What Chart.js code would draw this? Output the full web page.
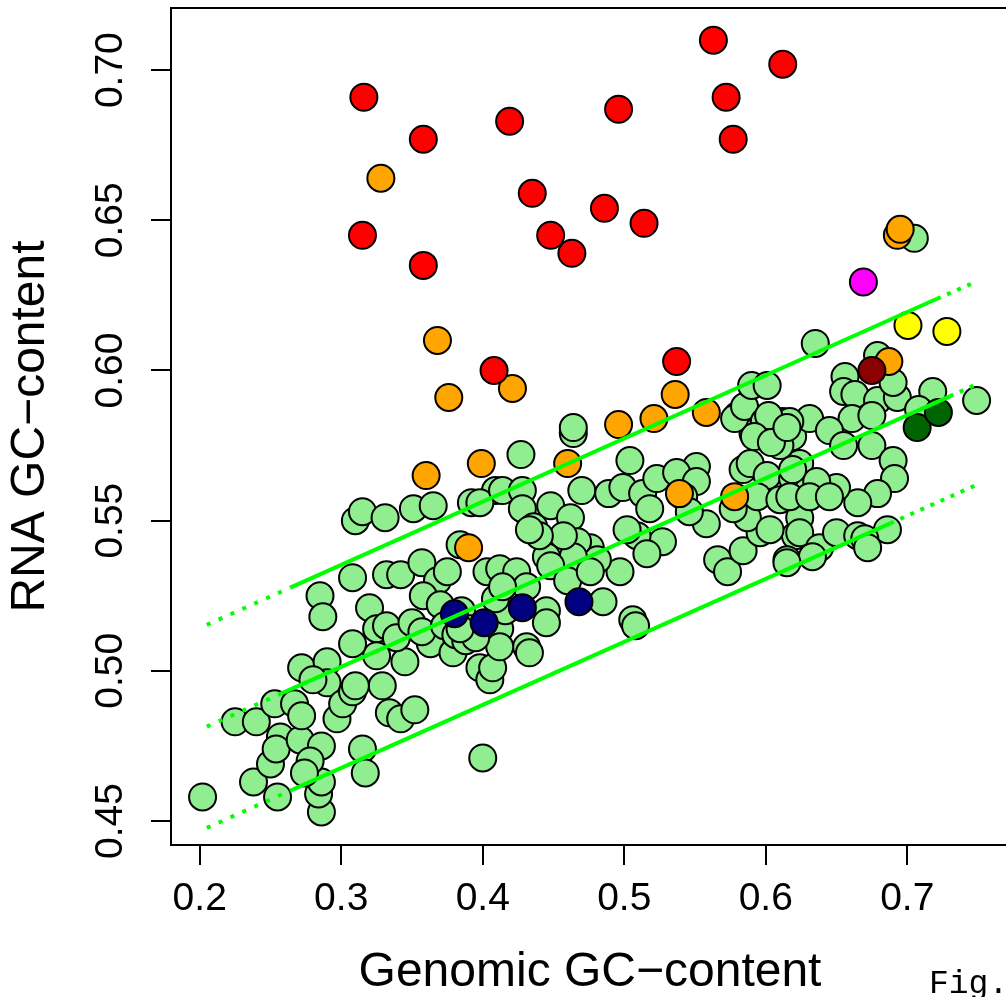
<!DOCTYPE html>
<html><head><meta charset="utf-8">
<script src="https://cdn.jsdelivr.net/npm/chart.js@4.4.0/dist/chart.umd.min.js"></script>
<style>html,body{margin:0;padding:0;background:#fff;overflow:hidden;width:1006px;height:997px}canvas{display:block}</style>
</head><body>
<canvas id="c" width="1012" height="997"></canvas>
<script>
const xTicks=[0.2,0.3,0.4,0.5,0.6,0.7];
const xTickLabels=['0.2','0.3','0.4','0.5','0.6','0.7'];
const yTicks=[0.45,0.50,0.55,0.60,0.65,0.70];
const yTickLabels=['0.45','0.50','0.55','0.60','0.65','0.70'];

const greenX=[
0.202,0.225,0.240,0.238,0.250,0.255,0.253,0.267,0.257,0.254,
0.271,0.286,0.284,0.286,0.286,0.278,0.274,0.272,0.272,0.290,
0.290,0.297,0.301,0.308,0.315,0.317,0.285,0.287,0.310,0.315,
0.331,0.308,0.320,0.325,0.332,0.329,0.334,0.342,0.352,0.345,
0.325,0.308,0.332,0.342,0.357,0.368,0.358,0.351,0.365,0.384,
0.392,0.409,0.412,0.403,0.375,0.363,0.379,0.398,0.405,0.400,
0.339,0.310,0.350,0.357,0.370,0.385,0.391,0.373,0.412,0.416,
0.409,0.427,0.464,0.464,0.504,0.398,0.414,0.428,0.428,0.436,
0.448,0.462,0.470,0.489,0.499,0.513,0.518,0.551,0.523,0.537,
0.551,0.542,0.558,0.546,0.527,0.509,0.516,0.502,0.497,0.476,
0.481,0.467,0.464,0.457,0.445,0.440,0.433,0.412,0.424,0.431,
0.414,0.448,0.460,0.476,0.485,0.445,0.506,0.566,0.573,0.584,
0.596,0.587,0.577,0.584,0.589,0.601,0.594,0.610,0.619,0.624,
0.605,0.601,0.580,0.591,0.619,0.612,0.621,0.615,0.603,0.630,
0.624,0.445,0.431,0.433,0.407,0.412,0.508,0.635,0.679,0.656,
0.655,0.663,0.679,0.693,0.690,0.718,0.749,0.661,0.675,0.631,
0.617,0.645,0.655,0.675,0.690,0.691,0.679,0.665,0.650,0.636,
0.619,0.617,0.631,0.645,0.624,0.638,0.650,0.665,0.686,0.670,
0.633,0.615,0.610,0.672,0.578,0.585,0.599,0.602,0.592,0.604,
0.615,0.590,0.601,0.705,0.708,0.280,0.381,0.388,0.395,0.384];
const greenY=[
0.458,0.483,0.483,0.463,0.469,0.458,0.489,0.489,0.478,0.474,
0.477,0.453,0.459,0.463,0.475,0.470,0.466,0.485,0.501,0.503,
0.496,0.484,0.489,0.493,0.474,0.466,0.525,0.518,0.550,0.553,
0.551,0.531,0.521,0.514,0.515,0.495,0.486,0.484,0.487,0.503,
0.505,0.509,0.532,0.532,0.536,0.530,0.525,0.554,0.555,0.542,
0.556,0.560,0.533,0.533,0.533,0.509,0.506,0.501,0.497,0.471,
0.511,0.495,0.516,0.513,0.522,0.520,0.514,0.515,0.514,0.520,
0.524,0.572,0.579,0.581,0.570,0.556,0.560,0.560,0.554,0.548,
0.555,0.551,0.560,0.559,0.561,0.559,0.554,0.568,0.564,0.566,
0.563,0.558,0.549,0.553,0.543,0.545,0.539,0.547,0.533,0.541,
0.537,0.543,0.538,0.545,0.538,0.545,0.547,0.534,0.533,0.528,
0.528,0.535,0.530,0.533,0.523,0.520,0.517,0.537,0.533,0.540,
0.546,0.551,0.554,0.567,0.569,0.565,0.558,0.557,0.564,0.569,
0.577,0.583,0.585,0.579,0.578,0.583,0.545,0.537,0.547,0.560,
0.551,0.516,0.508,0.506,0.501,0.508,0.515,0.609,0.605,0.598,
0.593,0.592,0.590,0.591,0.596,0.593,0.590,0.584,0.585,0.584,
0.583,0.580,0.575,0.575,0.570,0.564,0.559,0.556,0.561,0.563,
0.567,0.558,0.558,0.558,0.546,0.541,0.546,0.545,0.547,0.544,
0.538,0.536,0.575,0.541,0.584,0.588,0.583,0.585,0.578,0.576,
0.581,0.595,0.595,0.644,0.587,0.497,0.512,0.510,0.511,0.514];

const redX=[0.316,0.358,0.315,0.358,0.419,0.435,0.448,0.463,0.486,0.514,0.496,0.563,0.572,0.577,0.612,0.408,0.537];
const redY=[0.691,0.677,0.645,0.635,0.683,0.659,0.645,0.639,0.654,0.649,0.687,0.710,0.691,0.677,0.702,0.600,0.603];
const orangeX=[0.328,0.368,0.421,0.376,0.536,0.496,0.521,0.558,0.399,0.460,0.360,0.390,0.539,0.578,0.687,0.693,0.695];
const orangeY=[0.664,0.610,0.594,0.591,0.592,0.582,0.584,0.586,0.569,0.569,0.565,0.541,0.559,0.558,0.603,0.645,0.647];
const magentaX=[0.669], magentaY=[0.6295];
const yellowX=[0.7005,0.728], yellowY=[0.615,0.613];
const darkredX=[0.675], darkredY=[0.600];
const darkgreenX=[0.707,0.722], darkgreenY=[0.581,0.586];
const navyX=[0.380,0.401,0.428,0.468], navyY=[0.519,0.516,0.521,0.523];

// fitted band lines: start, solid start, solid end, end
const upperX=[0.205,0.264,0.721,0.747], upperY=[0.5153,0.5277,0.6239,0.6292];
const midX=[0.205,0.257,0.730,0.748],   midY=[0.4814,0.4923,0.5914,0.5952];
const lowX=[0.205,0.266,0.688,0.748],   lowY=[0.4477,0.4605,0.5491,0.5617];

function pts(xs,ys){return xs.map((x,i)=>({x:x,y:ys[i]}));}
function seg(xs,ys,i,j){return pts(xs.slice(i,j+1),ys.slice(i,j+1));}
function lineSet(data,dash){return {type:'line',data:data,showLine:true,borderColor:'#00FF00',borderWidth:4,borderDash:dash,borderCapStyle:'butt',pointRadius:0,fill:false,tension:0};}
function ptSet(data,color){return {data:data,backgroundColor:color,borderColor:'#000',borderWidth:2,pointRadius:13.5,pointHoverRadius:13.5,showLine:false};}

const datasets=[];
[[upperX,upperY],[midX,midY],[lowX,lowY]].forEach(([xs,ys])=>{
  datasets.push(lineSet(seg(xs,ys,0,1),[4,9]));
  datasets.push(lineSet(seg(xs,ys,1,2),[]));
  datasets.push(lineSet(seg(xs,ys,2,3),[4,7]));
});
datasets.push(ptSet(pts(darkredX,darkredY),'#8B0000'));
datasets.push(ptSet(pts(navyX,navyY),'#000080'));
datasets.push(ptSet(pts(darkgreenX,darkgreenY),'#006400'));
datasets.push(ptSet(pts(yellowX,yellowY),'#FFFF00'));
datasets.push(ptSet(pts(magentaX,magentaY),'#FF00FF'));
datasets.push(ptSet(pts(redX,redY),'#FF0000'));
datasets.push(ptSet(pts(orangeX,orangeY),'#FFA500'));
datasets.push(ptSet(pts(greenX,greenY),'#90EE90'));

Chart.defaults.font.family='"Liberation Sans", Arial, Helvetica, sans-serif';
Chart.defaults.color='#000';

const framePlugin={id:'frame',afterDraw(chart){
  const {ctx,chartArea:a}=chart;
  ctx.save();
  ctx.strokeStyle='#000';ctx.lineWidth=2;
  ctx.strokeRect(a.left,a.top,a.right-a.left,a.bottom-a.top);
  ctx.font='33px "Liberation Mono", "DejaVu Sans Mono", monospace';
  ctx.fillStyle='#000';ctx.textBaseline='alphabetic';ctx.textAlign='left';
  ctx.fillText('Fig.',929,993);
  ctx.restore();
}};

new Chart(document.getElementById('c'),{
  type:'scatter',
  data:{datasets:datasets},
  options:{
    responsive:false,animation:false,events:[],devicePixelRatio:1,
    layout:{autoPadding:false,padding:{left:0,top:8,right:3,bottom:0}},
    plugins:{legend:{display:false},tooltip:{enabled:false}},
    scales:{
      x:{type:'linear',position:'bottom',min:0.1797,max:0.7719,
        afterBuildTicks:s=>{s.ticks=xTicks.map(v=>({value:v}));},
        afterFit:s=>{s.height=152;s.paddingLeft=0;s.paddingRight=0;},
        grid:{drawOnChartArea:false,drawTicks:true,tickLength:20,color:'#000',lineWidth:2},
        border:{display:false},
        ticks:{autoSkip:false,maxRotation:0,minRotation:0,padding:11,color:'#000',font:{size:39,lineHeight:1.2},callback:(v,i)=>xTickLabels[i]},
        title:{display:true,text:'Genomic GC\u2212content',color:'#000',font:{size:48,lineHeight:1},padding:{top:0,bottom:0}}
      },
      y:{type:'linear',position:'left',min:0.442,max:0.7207,
        afterBuildTicks:s=>{s.ticks=yTicks.map(v=>({value:v}));},
        afterFit:s=>{s.width=171;s.paddingTop=0;s.paddingBottom=0;},
        grid:{drawOnChartArea:false,drawTicks:true,tickLength:20,color:'#000',lineWidth:2},
        border:{display:false},
        ticks:{autoSkip:false,minRotation:90,maxRotation:90,crossAlign:'center',padding:2,color:'#000',font:{size:39,lineHeight:1.2},callback:(v,i)=>yTickLabels[i]},
        title:{display:true,text:'RNA GC\u2212content',color:'#000',font:{size:48,lineHeight:1},padding:{top:7,bottom:0}}
      }
    }
  },
  plugins:[framePlugin]
});
</script>
</body></html>
